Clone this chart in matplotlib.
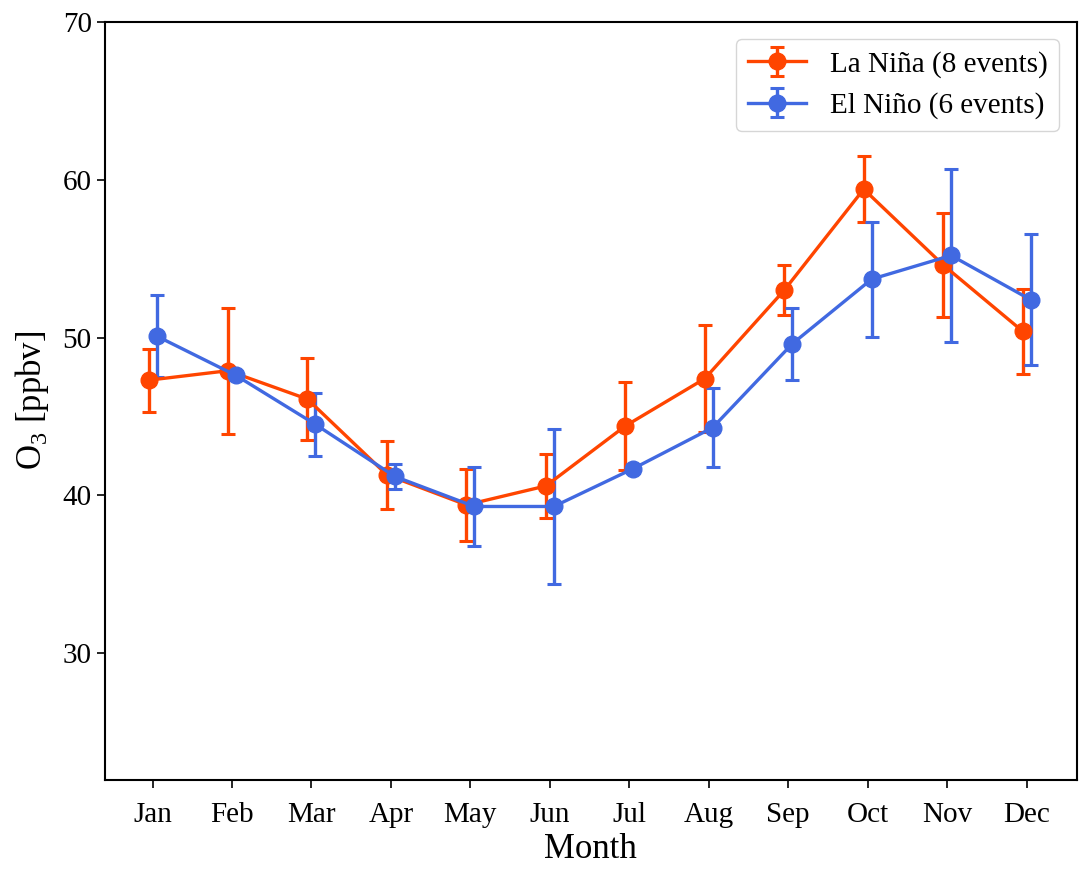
import numpy as np
import matplotlib
matplotlib.use("Agg")
import matplotlib.pyplot as plt

plt.rcParams['font.family'] = ['Liberation Serif', 'DejaVu Serif']
plt.rcParams['mathtext.fontset'] = 'custom'
plt.rcParams['mathtext.rm'] = 'Liberation Serif'

months = ['Jan', 'Feb', 'Mar', 'Apr', 'May', 'Jun',
          'Jul', 'Aug', 'Sep', 'Oct', 'Nov', 'Dec']

# La Nina
lanina_mean = [47.3, 47.9, 46.1, 41.3, 39.4, 40.6, 44.4, 47.4, 53.0, 59.4, 54.6, 50.4]
lanina_err = [2.0, 4.0, 2.6, 2.15, 2.3, 2.05, 2.8, 3.4, 1.6, 2.1, 3.3, 2.7]

# El Nino
elnino_mean = [50.1, 47.6, 44.5, 41.2, 39.3, 39.3, 41.7, 44.3, 49.6, 53.7, 55.2, 52.4]
elnino_err = [2.6, 0.3, 2.0, 0.8, 2.5, 4.9, 0.3, 2.5, 2.3, 3.65, 5.45, 4.15]

x = np.arange(1, 13)

fig = plt.figure(figsize=(10.81, 8.73), dpi=100)
ax = fig.add_axes([0.097, 0.107, 0.899, 0.868])

ax.errorbar(x - 0.05, lanina_mean, yerr=lanina_err, color='orangered',
            marker='o', markersize=12, linewidth=2.4, elinewidth=2.4,
            capsize=5, capthick=2.2, label='La Niña (8 events)')
ax.errorbar(x + 0.05, elnino_mean, yerr=elnino_err, color='royalblue',
            marker='o', markersize=12, linewidth=2.4, elinewidth=2.4,
            capsize=5, capthick=2.2, label='El Niño (6 events)')

ax.set_xticks(x)
ax.set_xticklabels(months)
ax.set_xlim(0.4, 12.63)
ax.set_ylim(22, 70)
ax.set_yticks([30, 40, 50, 60, 70])
ax.tick_params(labelsize=21, length=6, width=1.2)
ax.tick_params(axis='x', pad=10)
for s in ax.spines.values():
    s.set_linewidth(1.5)
ax.set_xlabel('Month', fontsize=25, labelpad=4)
ax.set_ylabel('O$_3$ [ppbv]', fontsize=25, labelpad=8)

ax.legend(loc='upper right', fontsize=21, borderaxespad=0.6)

fig.savefig('out.png', dpi=100)
